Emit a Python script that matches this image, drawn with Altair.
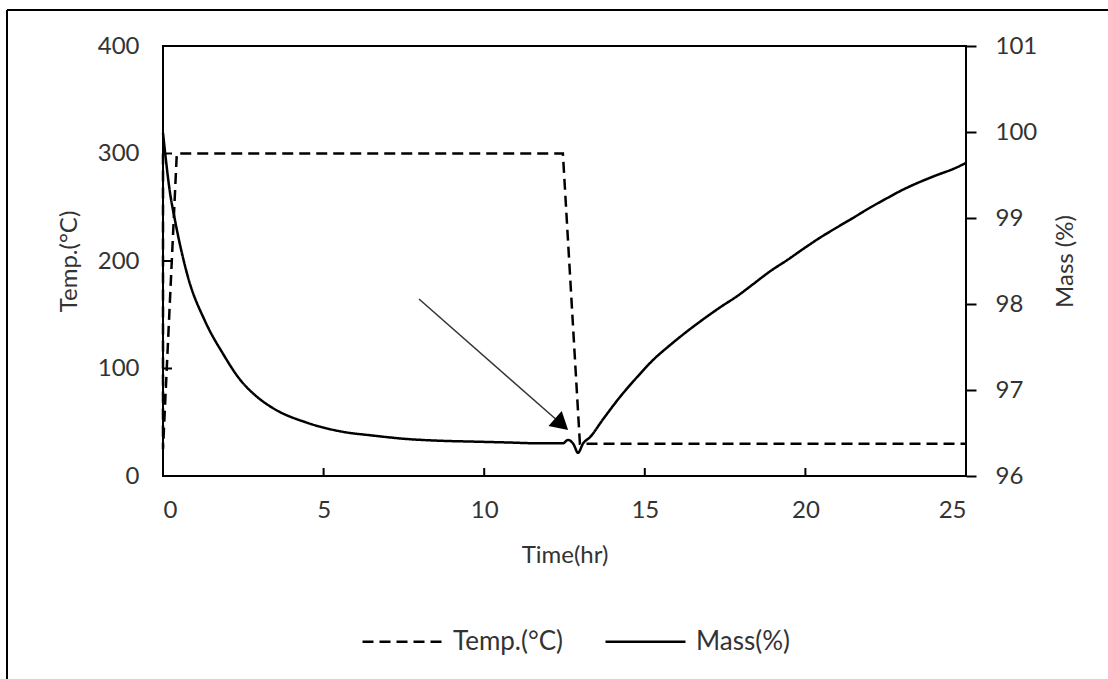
import altair as alt
import pandas as pd

# ---- data ----
temp_time = [0, 0, 0.43, 12.45, 12.98, 25]
temp_val = [300, 25, 300, 300, 30, 30]

mass_time = [0, 0.22, 0.37, 0.78, 1.31, 1.87, 2.40, 2.93, 3.42, 4.48, 5.51, 6.54, 7.6,
             8.62, 9.65, 10.71, 11.74, 12.45, 12.61, 12.78, 12.92, 13.08, 13.29, 13.7,
             14.23, 14.76, 15.26, 15.78, 16.31, 16.81, 17.34, 17.87, 18.37, 18.9, 19.43,
             19.93, 20.45, 20.98, 21.48, 22.01, 22.54, 23.04, 23.57, 24.1, 24.6, 25.0]
mass_val = [99.99, 99.29, 98.98, 98.31, 97.80, 97.42, 97.12, 96.92, 96.79, 96.62, 96.52,
            96.47, 96.43, 96.41, 96.40, 96.39, 96.38, 96.38, 96.42, 96.37, 96.27, 96.38,
            96.45, 96.66, 96.92, 97.15, 97.35, 97.52, 97.68, 97.82, 97.96, 98.09, 98.23,
            98.38, 98.51, 98.64, 98.77, 98.89, 99.00, 99.12, 99.23, 99.33, 99.42, 99.50,
            99.57, 99.64]

series_names = ["Temp.(°C)", "Mass(%)"]
x_ticks = [0, 5, 10, 15, 20, 25]
temp_ticks = [0, 100, 200, 300, 400]
mass_ticks = [96, 97, 98, 99, 100, 101]

# annotation arrow (time, temperature-axis units)
arrow_start = [7.97, 164.7]
arrow_end = [12.41, 48.1]

FONT = "Lato"
TXT = "#333333"

temp_df = pd.DataFrame({"time": temp_time, "value": temp_val, "series": series_names[0]})
mass_df = pd.DataFrame({"time": mass_time, "value": mass_val, "series": series_names[1]})
arrow_df = pd.DataFrame({"x0": [arrow_start[0]], "y0": [arrow_start[1]],
                         "x1": [arrow_end[0]], "y1": [arrow_end[1]]})
head_df = pd.DataFrame({"x": [arrow_end[0]], "y": [arrow_end[1]]})
xtick_df = pd.DataFrame({"t": x_ticks[1:-1]})
ytick_df = pd.DataFrame({"v": temp_ticks[1:-1]})

xscale = alt.Scale(domain=[0, 25], nice=False)
tscale = alt.Scale(domain=[0, 400], nice=False)
mscale = alt.Scale(domain=[96, 101], nice=False)
dash_scale = alt.Scale(domain=series_names, range=[[11, 6], [1, 0]])

x_axis = alt.Axis(values=x_ticks, ticks=False, domain=False, grid=False,
                  labelPadding=22, title="Time(hr)", titlePadding=21)
temp_axis = alt.Axis(values=temp_ticks, ticks=False, domain=False, grid=False,
                     labelPadding=24, title="Temp.(°C)", titlePadding=16)

legend = alt.Legend(orient="none", legendX=198, legendY=554, direction="horizontal",
                    title=None, symbolType="stroke", symbolSize=6400,
                    symbolStrokeWidth=2.5, symbolStrokeColor="black",
                    labelFontSize=26, labelFont=FONT, labelColor=TXT,
                    labelOffset=9, columnPadding=36)

temp_line = alt.Chart(temp_df).mark_line(color="black", strokeWidth=2.5).encode(
    x=alt.X("time:Q", scale=xscale, axis=x_axis),
    y=alt.Y("value:Q", scale=tscale, axis=temp_axis),
    strokeDash=alt.StrokeDash("series:N", scale=dash_scale, legend=legend,
                              sort=series_names),
    order=alt.Order("idx:Q"),
).transform_window(idx="row_number()")

arrow_line = alt.Chart(arrow_df).mark_rule(color="#333333", strokeWidth=1.5).encode(
    x=alt.X("x0:Q", scale=xscale, axis=x_axis),
    y=alt.Y("y0:Q", scale=tscale, axis=temp_axis),
    x2="x1:Q",
    y2="y1:Q",
)
arrow_head = alt.Chart(head_df).mark_point(shape="triangle-up", filled=True, size=400,
                                           angle=131.3, color="black", opacity=1).encode(
    x=alt.X("x:Q", scale=xscale, axis=x_axis),
    y=alt.Y("y:Q", scale=tscale, axis=temp_axis),
)
# inward ticks on the left and bottom axes
ytick_marks = alt.Chart(ytick_df).mark_rule(color="black", strokeWidth=2).encode(
    y=alt.Y("v:Q", scale=tscale, axis=temp_axis),
    x=alt.value(0), x2=alt.value(9),
)
xtick_marks = alt.Chart(xtick_df).mark_rule(color="black", strokeWidth=2).encode(
    x=alt.X("t:Q", scale=xscale, axis=x_axis),
    y=alt.value(430), y2=alt.value(422),
)
# outer frame of the picture (left and top edges)
frame_left = alt.Chart(xtick_df).mark_rule(color="black", strokeWidth=2).encode(
    x=alt.value(-156), y=alt.value(-36), y2=alt.value(640))
frame_top = alt.Chart(xtick_df).mark_rule(color="black", strokeWidth=2).encode(
    x=alt.value(-156), x2=alt.value(950), y=alt.value(-36))

left = alt.layer(temp_line, arrow_line, arrow_head, ytick_marks, xtick_marks,
                 frame_left, frame_top)

mass_line = alt.Chart(mass_df).mark_line(color="black", strokeWidth=2.5,
                                         interpolate="monotone").encode(
    x=alt.X("time:Q", scale=xscale, axis=x_axis),
    y=alt.Y("value:Q", scale=mscale,
            axis=alt.Axis(orient="right", values=mass_ticks, ticks=True, tickSize=10,
                          tickWidth=2, tickColor="black", domain=False, grid=False,
                          labelPadding=19, title="Mass (%)", titleAngle=270,
                          titleX=99, titleY=215, titleAlign="center",
                          titleBaseline="middle")),
    strokeDash=alt.StrokeDash("series:N", scale=dash_scale, legend=legend,
                              sort=series_names),
)

chart = alt.layer(left, mass_line).resolve_scale(y="independent").properties(
    width=803, height=430,
    autosize=alt.AutoSizeParams(type="none"),
    padding={"left": 163, "top": 46, "right": 142, "bottom": 203},
    background="white",
).configure_view(stroke="black", strokeWidth=2).configure_axis(
    labelFont=FONT, labelFontSize=24, labelColor=TXT,
    titleFont=FONT, titleFontSize=24, titleColor=TXT, titleFontWeight="normal",
)

chart.save("out.html", embed_options={"renderer": "svg", "actions": False})
